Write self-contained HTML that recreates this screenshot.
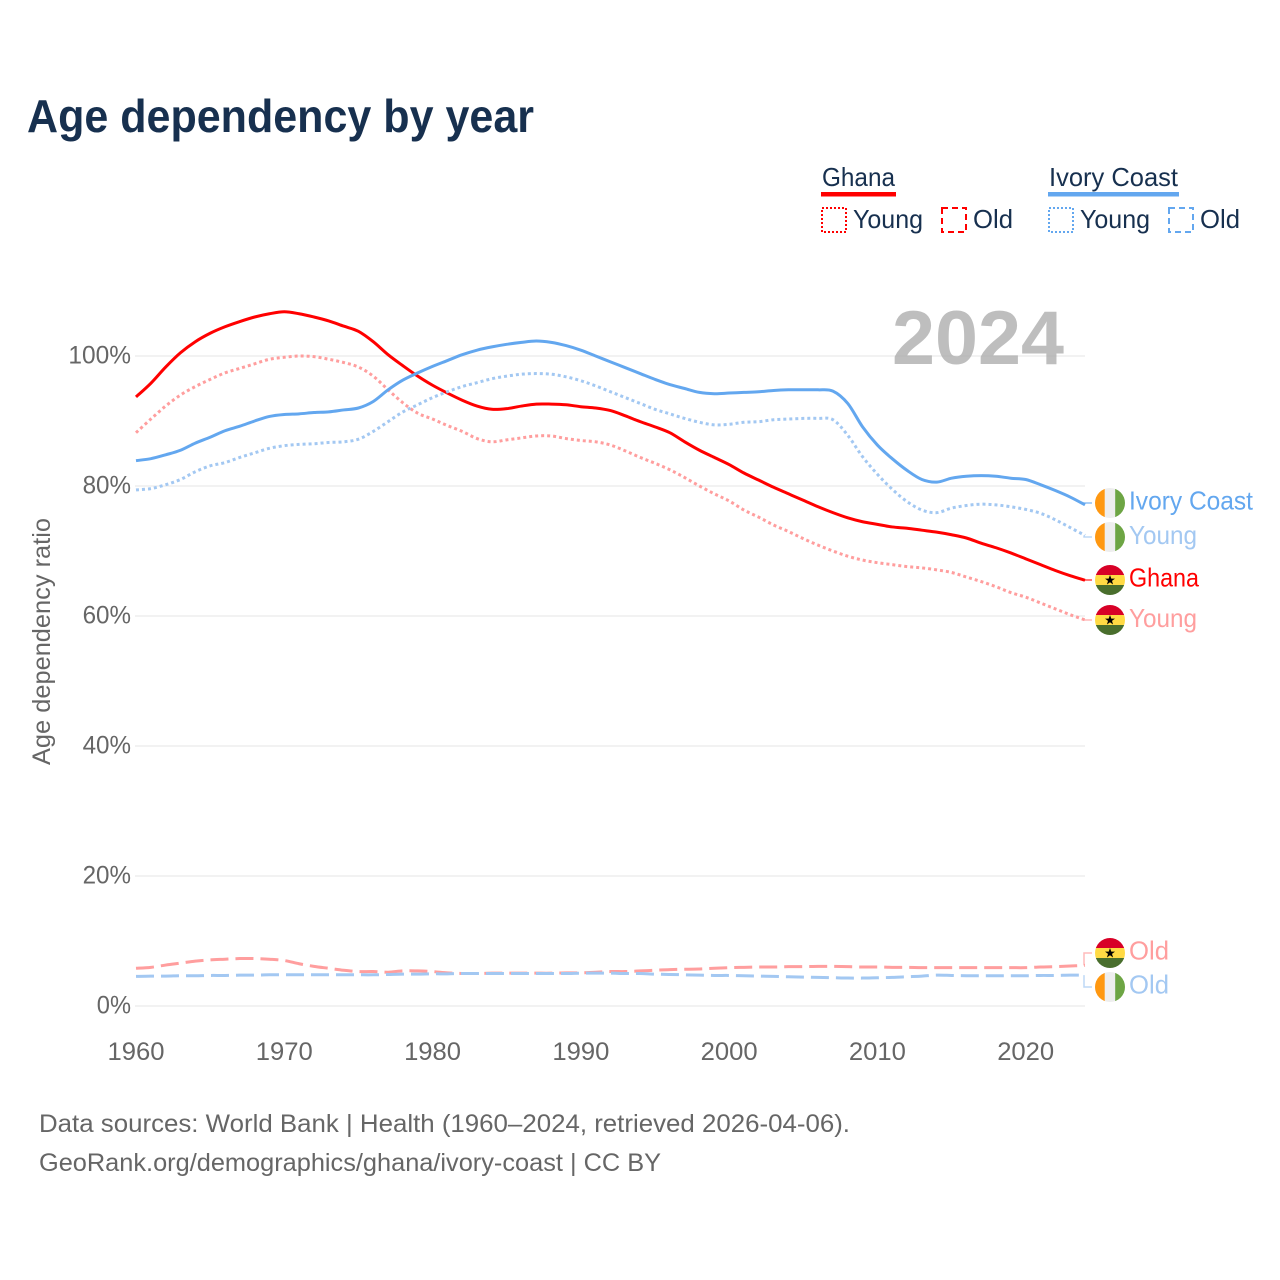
<!DOCTYPE html>
<html lang="en">
<head>
<meta charset="utf-8">
<title>Age dependency by year</title>
<style>
html,body{margin:0;padding:0;background:#fff;}
svg{display:block;font-family:"Liberation Sans",sans-serif;}
</style>
</head>
<body>
<svg id="chart" width="1280" height="1280" viewBox="0 0 1280 1280" xmlns="http://www.w3.org/2000/svg">
  <defs>
    <clipPath id="flag-clip"><circle cx="0" cy="0" r="15"/></clipPath>
    <g id="flag-civ" clip-path="url(#flag-clip)">
      <rect x="-15" y="-15" width="30" height="30" fill="#eeeeee"/>
      <rect x="-15" y="-15" width="9.7" height="30" fill="#ff9811"/>
      <rect x="5.2" y="-15" width="9.8" height="30" fill="#6da544"/>
    </g>
    <g id="flag-gha" clip-path="url(#flag-clip)">
      <rect x="-15" y="-15" width="30" height="10" fill="#d80027"/>
      <rect x="-15" y="-5" width="30" height="10" fill="#ffda44"/>
      <rect x="-15" y="5" width="30" height="10" fill="#496e2d"/>
      <polygon points="0,-5 1.3,-1.4 5,-1.4 2,0.9 3.1,4.5 0,2.3 -3.1,4.5 -2,0.9 -5,-1.4 -1.3,-1.4" fill="#000"/>
    </g>
  </defs>

  <text x="27" y="132" font-size="46.5" font-weight="700" fill="#17304f" textLength="507" lengthAdjust="spacingAndGlyphs">Age dependency by year</text>

  <g font-size="26" fill="#17304f">
    <g>
      <text x="822" y="186" textLength="73" lengthAdjust="spacingAndGlyphs">Ghana</text>
      <rect x="821" y="192" width="75" height="4.5" fill="#ff0000"/>
      <rect x="822" y="208" width="24" height="24" fill="none" stroke="#ff0000" stroke-width="2" stroke-dasharray="2 2"/>
      <text x="853" y="228" textLength="70" lengthAdjust="spacingAndGlyphs">Young</text>
      <rect x="942" y="208" width="24" height="24" fill="none" stroke="#ff0000" stroke-width="2" stroke-dasharray="6 4"/>
      <text x="973" y="228" textLength="40" lengthAdjust="spacingAndGlyphs">Old</text>
    </g>
    <g>
      <text x="1049" y="186" textLength="129" lengthAdjust="spacingAndGlyphs">Ivory Coast</text>
      <rect x="1048" y="192" width="131" height="4.5" fill="#63a7ef"/>
      <rect x="1049" y="208" width="24" height="24" fill="none" stroke="#63a7ef" stroke-width="2" stroke-dasharray="2 2"/>
      <text x="1080" y="228" textLength="70" lengthAdjust="spacingAndGlyphs">Young</text>
      <rect x="1169" y="208" width="24" height="24" fill="none" stroke="#63a7ef" stroke-width="2" stroke-dasharray="6 4"/>
      <text x="1200" y="228" textLength="40" lengthAdjust="spacingAndGlyphs">Old</text>
    </g>
  </g>

  <g id="grid"></g>
  <text x="892" y="364" font-size="76" font-weight="700" fill="#a8a8a8" fill-opacity="0.75" textLength="172" lengthAdjust="spacingAndGlyphs">2024</text>
  <g id="y-ticks"></g>
  <g id="x-ticks"></g>
  <text transform="translate(50,765) rotate(-90)" font-size="25" fill="#666666" textLength="247" lengthAdjust="spacingAndGlyphs">Age dependency ratio</text>

  <g id="series"></g>

  <g font-size="26">
    <use href="#flag-civ" x="1110" y="503"/>
    <text x="1129" y="509.5" fill="#63a7ef" textLength="124" lengthAdjust="spacingAndGlyphs">Ivory Coast</text>
    <use href="#flag-civ" x="1110" y="537"/>
    <text x="1129" y="544" fill="#a3c8f2" textLength="68" lengthAdjust="spacingAndGlyphs">Young</text>
    <use href="#flag-gha" x="1110" y="580"/>
    <text x="1129" y="586.5" fill="#ff0000" textLength="70" lengthAdjust="spacingAndGlyphs">Ghana</text>
    <use href="#flag-gha" x="1110" y="620"/>
    <text x="1129" y="627" fill="#ff9e9e" textLength="68" lengthAdjust="spacingAndGlyphs">Young</text>
    <use href="#flag-gha" x="1110" y="953"/>
    <text x="1129" y="959.5" fill="#ff9e9e" textLength="40" lengthAdjust="spacingAndGlyphs">Old</text>
    <use href="#flag-civ" x="1110" y="987"/>
    <text x="1129" y="993.5" fill="#a3c8f2" textLength="40" lengthAdjust="spacingAndGlyphs">Old</text>
  </g>

  <g font-size="25" fill="#666666">
    <text x="39" y="1132" textLength="811" lengthAdjust="spacingAndGlyphs">Data sources: World Bank | Health (1960–2024, retrieved 2026-04-06).</text>
    <text x="39" y="1171" textLength="622" lengthAdjust="spacingAndGlyphs">GeoRank.org/demographics/ghana/ivory-coast | CC BY</text>
  </g>
</svg>

<script>
var firstYear = 1960;
var lastYear = 2024;
var xTickYears = [1960, 1970, 1980, 1990, 2000, 2010, 2020];
var yTickValues = [0, 20, 40, 60, 80, 100];

var ghanaTotal = [
  93.7,95.8,98.3,100.5,102.2,103.5,104.5,105.3,106,106.5,
  106.8,106.5,106,105.4,104.6,103.8,102.2,100.2,98.5,96.9,
  95.5,94.3,93.2,92.3,91.8,91.9,92.3,92.6,92.6,92.5,
  92.2,92,91.6,90.8,89.9,89.1,88.2,86.8,85.5,84.4,
  83.3,82,80.9,79.8,78.8,77.8,76.8,75.9,75.1,74.5,
  74.1,73.7,73.5,73.2,72.9,72.5,72,71.2,70.5,69.7,
  68.8,67.9,67,66.2,65.5
];
var ghanaYoung = [
  88.2,90.3,92.3,94,95.3,96.4,97.4,98.1,98.8,99.5,
  99.8,100,99.9,99.5,99,98.3,96.9,94.8,92.8,91.2,
  90.3,89.3,88.4,87.3,86.8,87.1,87.4,87.7,87.7,87.3,
  87,86.8,86.3,85.4,84.4,83.5,82.5,81.3,80,78.8,
  77.7,76.3,75.2,74,73,71.9,70.9,70,69.2,68.6,
  68.2,67.9,67.6,67.4,67.1,66.7,66,65.3,64.5,63.6,
  62.9,62,61.1,60.2,59.4
];
var ghanaOld = [
  5.8,5.95,6.3,6.6,6.9,7.1,7.2,7.3,7.3,7.2,
  7,6.5,6.1,5.8,5.5,5.3,5.3,5.2,5.4,5.4,
  5.3,5.1,5,5,5.05,5.05,5.05,5.05,5.05,5.1,
  5.1,5.2,5.3,5.3,5.4,5.5,5.6,5.65,5.7,5.8,
  5.9,5.95,6,6,6.05,6.05,6.1,6.1,6.05,6,
  6,5.95,5.95,5.9,5.9,5.9,5.9,5.9,5.9,5.9,
  5.9,6,6.05,6.15,6.25
];
var ivoryTotal = [
  83.9,84.2,84.8,85.5,86.6,87.5,88.5,89.2,90,90.7,
  91,91.1,91.3,91.4,91.7,92,93,94.8,96.3,97.4,
  98.4,99.3,100.2,100.9,101.4,101.8,102.1,102.3,102.1,101.6,
  100.9,100,99.1,98.2,97.3,96.4,95.6,95,94.4,94.2,
  94.3,94.4,94.5,94.7,94.8,94.8,94.8,94.6,92.7,89.1,
  86.3,84.2,82.4,81,80.6,81.2,81.5,81.6,81.5,81.2,
  81,80.2,79.3,78.3,77.1
];
var ivoryYoung = [
  79.4,79.6,80.2,81,82.2,83.1,83.6,84.4,85.1,85.8,
  86.2,86.4,86.5,86.7,86.8,87.2,88.4,89.9,91.4,92.5,
  93.6,94.5,95.3,95.9,96.5,96.9,97.2,97.3,97.2,96.8,
  96.2,95.4,94.5,93.6,92.7,91.8,91.1,90.4,89.8,89.4,
  89.5,89.8,89.9,90.2,90.3,90.4,90.4,90.2,87.8,84.5,
  81.8,79.5,77.6,76.3,75.9,76.6,77,77.2,77.1,76.8,
  76.4,75.8,74.8,73.6,72.4
];
var ivoryOld = [
  4.55,4.6,4.6,4.65,4.65,4.7,4.7,4.75,4.75,4.8,
  4.8,4.8,4.8,4.8,4.8,4.8,4.8,4.85,4.9,4.9,
  4.95,4.95,5,5,5,5,5,5,5,5,
  5.05,5.05,5.05,5,5,4.9,4.85,4.8,4.75,4.7,
  4.7,4.65,4.6,4.55,4.5,4.45,4.4,4.35,4.3,4.3,
  4.35,4.4,4.5,4.6,4.75,4.7,4.65,4.65,4.65,4.65,
  4.65,4.7,4.7,4.75,4.75
];

var SVG_NS = 'http://www.w3.org/2000/svg';
function xScale(year) { return 136 + (year - 1960) * (1085 - 136) / 64; }
function yScale(value) { return 1006 - value * 6.5; }

var gridGroup = document.getElementById('grid');
var yTickGroup = document.getElementById('y-ticks');
var xTickGroup = document.getElementById('x-ticks');
var seriesGroup = document.getElementById('series');

yTickValues.forEach(function (v) {
  var line = document.createElementNS(SVG_NS, 'line');
  
  
  line.setAttribute('x1', 135);
  line.setAttribute('x2', 1085);
  line.setAttribute('y1', yScale(v));
  line.setAttribute('y2', yScale(v));
  line.setAttribute('stroke', '#eeeeee');
  line.setAttribute('stroke-width', 1.5);
  gridGroup.appendChild(line);

  var label = String(v) + '%';
  var t = document.createElementNS(SVG_NS, 'text');
  
  
  t.setAttribute('x', 131);
  t.setAttribute('y', yScale(v) + 7.5);
  t.setAttribute('text-anchor', 'end');
  t.setAttribute('font-size', 25);
  t.setAttribute('fill', '#666666');
  t.setAttribute('textLength', (label.length - 1) * 14.2 + 20);
  t.setAttribute('lengthAdjust', 'spacingAndGlyphs');
  t.textContent = label;
  yTickGroup.appendChild(t);
});

xTickYears.forEach(function (yr) {
  var t = document.createElementNS(SVG_NS, 'text');
  
  
  t.setAttribute('x', xScale(yr));
  t.setAttribute('y', 1060);
  t.setAttribute('text-anchor', 'middle');
  t.setAttribute('font-size', 25);
  t.setAttribute('fill', '#666666');
  t.setAttribute('textLength', 57);
  t.setAttribute('lengthAdjust', 'spacingAndGlyphs');
  t.textContent = String(yr);
  xTickGroup.appendChild(t);
});

function smoothPath(values) {
  var p = values.map(function (v, i) {
    return [xScale(firstYear + i), yScale(v)];
  });
  var d = 'M' + p[0][0].toFixed(2) + ' ' + p[0][1].toFixed(2);
  for (var i = 0; i < p.length - 1; i++) {
    var a = p[Math.max(i - 1, 0)];
    var b = p[i];
    var c = p[i + 1];
    var e = p[Math.min(i + 2, p.length - 1)];
    var c1x = b[0] + (c[0] - a[0]) / 6;
    var c1y = b[1] + (c[1] - a[1]) / 6;
    var c2x = c[0] - (e[0] - b[0]) / 6;
    var c2y = c[1] - (e[1] - b[1]) / 6;
    d += ' C' + c1x.toFixed(2) + ' ' + c1y.toFixed(2) + ' ' + c2x.toFixed(2) + ' ' + c2y.toFixed(2) + ' ' + c[0].toFixed(2) + ' ' + c[1].toFixed(2);
  }
  return d;
}

function drawSeries(name, values, color, dash, width, labelY) {
  var line = document.createElementNS(SVG_NS, 'path');
  
  
  line.setAttribute('d', smoothPath(values));
  line.setAttribute('fill', 'none');
  line.setAttribute('stroke', color);
  line.setAttribute('stroke-width', width);
  line.setAttribute('stroke-linejoin', 'round');
  if (dash) { line.setAttribute('stroke-dasharray', dash); }
  seriesGroup.appendChild(line);

  var endX = xScale(lastYear);
  var endY = yScale(values[values.length - 1]);
  var leader = document.createElementNS(SVG_NS, 'path');
  
  
  leader.setAttribute('d', 'M' + (endX - 1) + ' ' + endY + ' V' + labelY + ' H1092');
  leader.setAttribute('fill', 'none');
  leader.setAttribute('stroke', color);
  leader.setAttribute('stroke-opacity', '0.7');
  leader.setAttribute('stroke-width', 1.5);
  seriesGroup.appendChild(leader);
}

drawSeries('ghana-young', ghanaYoung, '#ff9e9e', '3 3', 3, 620);
drawSeries('ghana-old', ghanaOld, '#ff9e9e', '18 7', 3, 953);
drawSeries('ghana-total', ghanaTotal, '#ff0000', '', 3, 580);
drawSeries('ivory-coast-young', ivoryYoung, '#a3c8f2', '3 3', 3, 537);
drawSeries('ivory-coast-old', ivoryOld, '#a3c8f2', '18 7', 3, 987);
drawSeries('ivory-coast-total', ivoryTotal, '#63a7ef', '', 3, 503);
</script>
</body>
</html>
